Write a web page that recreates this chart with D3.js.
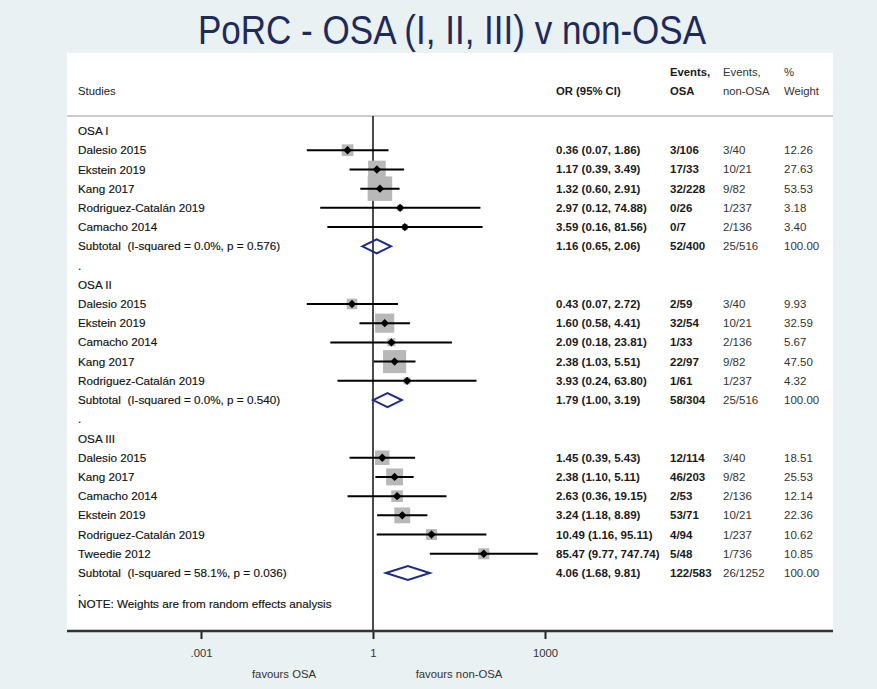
<!DOCTYPE html>
<html>
<head>
<meta charset="utf-8">
<script src="https://cdn.jsdelivr.net/npm/d3@7"></script>
<style>
  html, body { margin: 0; padding: 0; background: #e9f1f3; }
  svg { display: block; }
  text { font-family: "Liberation Sans", Arial, Helvetica, sans-serif; white-space: pre; }
</style>
</head>
<body>
<svg id="chart" width="877" height="689"></svg>
<script>
// ---- Data ----------------------------------------------------------------
const chartTitle = "PoRC - OSA (I, II, III) v non-OSA";
const groupNames = ["OSA I", "OSA II", "OSA III"];

const osa1Studies = ["Dalesio 2015", "Ekstein 2019", "Kang 2017", "Rodriguez-Catalán 2019", "Camacho 2014"];
const osa1OR      = [0.36, 1.17, 1.32, 2.97, 3.59];
const osa1Lo      = [0.07, 0.39, 0.60, 0.12, 0.16];
const osa1Hi      = [1.86, 3.49, 2.91, 74.88, 81.56];
const osa1EvOSA   = ["3/106", "17/33", "32/228", "0/26", "0/7"];
const osa1EvNon   = ["3/40", "10/21", "9/82", "1/237", "2/136"];
const osa1Weight  = [12.26, 27.63, 53.53, 3.18, 3.40];

const osa2Studies = ["Dalesio 2015", "Ekstein 2019", "Camacho 2014", "Kang 2017", "Rodriguez-Catalán 2019"];
const osa2OR      = [0.43, 1.60, 2.09, 2.38, 3.93];
const osa2Lo      = [0.07, 0.58, 0.18, 1.03, 0.24];
const osa2Hi      = [2.72, 4.41, 23.81, 5.51, 63.80];
const osa2EvOSA   = ["2/59", "32/54", "1/33", "22/97", "1/61"];
const osa2EvNon   = ["3/40", "10/21", "2/136", "9/82", "1/237"];
const osa2Weight  = [9.93, 32.59, 5.67, 47.50, 4.32];

const osa3Studies = ["Dalesio 2015", "Kang 2017", "Camacho 2014", "Ekstein 2019", "Rodriguez-Catalán 2019", "Tweedie 2012"];
const osa3OR      = [1.45, 2.38, 2.63, 3.24, 10.49, 85.47];
const osa3Lo      = [0.39, 1.10, 0.36, 1.18, 1.16, 9.77];
const osa3Hi      = [5.43, 5.11, 19.15, 8.89, 95.11, 747.74];
const osa3EvOSA   = ["12/114", "46/203", "2/53", "53/71", "4/94", "5/48"];
const osa3EvNon   = ["3/40", "9/82", "2/136", "10/21", "1/237", "1/736"];
const osa3Weight  = [18.51, 25.53, 12.14, 22.36, 10.62, 10.85];

// pooled (subtotal) estimates per group
const subOR     = [1.16, 1.79, 4.06];
const subLo     = [0.65, 1.00, 1.68];
const subHi     = [2.06, 3.19, 9.81];
const subEvOSA  = ["52/400", "58/304", "122/583"];
const subEvNon  = ["25/516", "25/516", "26/1252"];
const subWeight = [100.00, 100.00, 100.00];
const subI2     = [0.0, 0.0, 58.1];
const subP      = [0.576, 0.540, 0.036];

const axisTicks      = [0.001, 1, 1000];
const axisTickLabels = [".001", "1", "1000"];
const favourLabels   = ["favours OSA", "favours non-OSA"];
const noteText = "NOTE: Weights are from random effects analysis";

// ---- Assemble rows -------------------------------------------------------
const groups = [
  { studies: osa1Studies, or: osa1OR, lo: osa1Lo, hi: osa1Hi, evO: osa1EvOSA, evN: osa1EvNon, w: osa1Weight },
  { studies: osa2Studies, or: osa2OR, lo: osa2Lo, hi: osa2Hi, evO: osa2EvOSA, evN: osa2EvNon, w: osa2Weight },
  { studies: osa3Studies, or: osa3OR, lo: osa3Lo, hi: osa3Hi, evO: osa3EvOSA, evN: osa3EvNon, w: osa3Weight }
];

const rows = [];
let r = 0;
groups.forEach((g, gi) => {
  rows.push({ type: "header", row: r++, label: groupNames[gi] });
  g.studies.forEach((s, i) => {
    rows.push({ type: "study", row: r++, label: s, or: g.or[i], lo: g.lo[i], hi: g.hi[i],
                evO: g.evO[i], evN: g.evN[i], w: g.w[i] });
  });
  rows.push({ type: "subtotal", row: r++,
              label: `Subtotal  (I-squared = ${d3.format(".1f")(subI2[gi])}%, p = ${d3.format(".3f")(subP[gi])})`,
              or: subOR[gi], lo: subLo[gi], hi: subHi[gi], evO: subEvOSA[gi], evN: subEvNon[gi], w: subWeight[gi] });
  rows.push({ type: "spacer", row: r++, label: "." });
});
const lastRow = r - 1;

// ---- Layout --------------------------------------------------------------
const svg = d3.select("#chart");
const W = 877, H = 689;
const panel = { x0: 67, x1: 833, y0: 53, y1: 631 };
const sepY = 116;

const x = d3.scaleLog().domain([1e-3, 1e3]).range([201, 545]);
const y = d3.scaleLinear().domain([0, 23]).range([131, 573]);

const colLabel = 78, colOR = 556, colEvO = 670, colEvN = 723, colW = 784;
const fmt2 = d3.format(".2f");

svg.append("rect").attr("x", 0).attr("y", 0).attr("width", W).attr("height", H).attr("fill", "#e9f1f3");
svg.append("rect").attr("x", panel.x0).attr("y", panel.y0)
  .attr("width", panel.x1 - panel.x0).attr("height", panel.y1 - panel.y0).attr("fill", "#ffffff");

// title, set in a horizontally condensed face
svg.append("text").attr("transform", "translate(452,44) scale(0.855,1)").attr("text-anchor", "middle")
  .attr("font-size", 41).attr("fill", "#1e2a5a").text(chartTitle);

// column headings
const head = svg.append("g").attr("font-size", 11.3).attr("fill", "#1a1a1a");
head.append("text").attr("x", colLabel).attr("y", 91).attr("dy", "0.35em").text("Studies");
head.append("text").attr("x", colOR).attr("y", 91).attr("dy", "0.35em").attr("font-weight", "bold").text("OR (95% CI)");
head.append("text").attr("x", colEvO).attr("y", 72).attr("dy", "0.35em").attr("font-weight", "bold").text("Events,");
head.append("text").attr("x", colEvO).attr("y", 91).attr("dy", "0.35em").attr("font-weight", "bold").text("OSA");
head.append("text").attr("x", colEvN).attr("y", 72).attr("dy", "0.35em").attr("fill", "#333").text("Events,");
head.append("text").attr("x", colEvN).attr("y", 91).attr("dy", "0.35em").attr("fill", "#333").text("non-OSA");
head.append("text").attr("x", colW).attr("y", 72).attr("dy", "0.35em").attr("fill", "#333").text("%");
head.append("text").attr("x", colW).attr("y", 91).attr("dy", "0.35em").attr("fill", "#333").text("Weight");

svg.append("line").attr("x1", panel.x0).attr("x2", panel.x1).attr("y1", sepY).attr("y2", sepY)
  .attr("stroke", "#cccccc").attr("stroke-width", 2);

// reference line at OR = 1
svg.append("line").attr("x1", x(1)).attr("x2", x(1)).attr("y1", sepY).attr("y2", panel.y1)
  .attr("stroke", "#111").attr("stroke-width", 1.5);

// row labels
const labels = svg.append("g").attr("font-size", 11.7).attr("fill", "#111")
  .attr("stroke", "#111").attr("stroke-width", 0.15);
labels.selectAll("text").data(rows).join("text")
  .attr("x", colLabel).attr("y", d => y(d.row)).attr("dy", "0.35em").text(d => d.label);
labels.append("text").attr("x", colLabel).attr("y", y(lastRow + 0.6)).attr("dy", "0.35em").text(noteText);

// numeric columns
const valueRows = rows.filter(d => d.type === "study" || d.type === "subtotal");
const cols = svg.append("g").attr("font-size", 11.5);
cols.selectAll("text.or").data(valueRows).join("text").attr("class", "or")
  .attr("x", colOR).attr("y", d => y(d.row)).attr("dy", "0.35em").attr("font-weight", "bold").attr("fill", "#1a1a1a")
  .text(d => `${fmt2(d.or)} (${fmt2(d.lo)}, ${fmt2(d.hi)})`);
cols.selectAll("text.evo").data(valueRows).join("text").attr("class", "evo")
  .attr("x", colEvO).attr("y", d => y(d.row)).attr("dy", "0.35em").attr("font-weight", "bold").attr("fill", "#1a1a1a")
  .text(d => d.evO);
cols.selectAll("text.evn").data(valueRows).join("text").attr("class", "evn")
  .attr("x", colEvN).attr("y", d => y(d.row)).attr("dy", "0.35em").attr("fill", "#333")
  .text(d => d.evN);
cols.selectAll("text.w").data(valueRows).join("text").attr("class", "w")
  .attr("x", colW).attr("y", d => y(d.row)).attr("dy", "0.35em").attr("fill", "#333")
  .text(d => fmt2(d.w));

// study marks: weight boxes, CI whiskers, point estimates
const studies = rows.filter(d => d.type === "study");
const boxSide = w => 3.35 * Math.sqrt(w);
svg.append("g").selectAll("rect").data(studies).join("rect")
  .attr("x", d => x(d.or) - boxSide(d.w) / 2).attr("y", d => y(d.row) - boxSide(d.w) / 2)
  .attr("width", d => boxSide(d.w)).attr("height", d => boxSide(d.w))
  .attr("fill", "#b8b8b8");
svg.append("g").selectAll("line").data(studies).join("line")
  .attr("x1", d => x(d.lo)).attr("x2", d => x(d.hi))
  .attr("y1", d => y(d.row)).attr("y2", d => y(d.row))
  .attr("stroke", "#000").attr("stroke-width", 2);
svg.append("g").selectAll("path").data(studies).join("path")
  .attr("d", d => { const cx = x(d.or), cy = y(d.row), s = 4.2;
    return `M${cx - s},${cy}L${cx},${cy - s}L${cx + s},${cy}L${cx},${cy + s}Z`; })
  .attr("fill", "#000");

// pooled diamonds
const subs = rows.filter(d => d.type === "subtotal");
svg.append("g").selectAll("path").data(subs).join("path")
  .attr("d", d => { const cy = y(d.row), h = 7;
    return `M${x(d.lo)},${cy}L${x(d.or)},${cy - h}L${x(d.hi)},${cy}L${x(d.or)},${cy + h}Z`; })
  .attr("fill", "none").attr("stroke", "#1f2a86").attr("stroke-width", 2);

// x axis
const axis = svg.append("g").attr("transform", `translate(0,${panel.y1})`)
  .call(d3.axisBottom(x).tickValues(axisTicks).tickSize(8).tickPadding(10)
        .tickFormat((d, i) => axisTickLabels[i]));
axis.select(".domain").remove();
axis.selectAll(".tick line").attr("stroke", "#222").attr("stroke-width", 2);
axis.selectAll(".tick text").attr("font-size", 11.3).attr("fill", "#333")
  .attr("font-family", "Liberation Sans, Arial, sans-serif");
svg.append("line").attr("x1", panel.x0).attr("x2", panel.x1).attr("y1", panel.y1).attr("y2", panel.y1)
  .attr("stroke", "#333").attr("stroke-width", 2.5);

svg.append("text").attr("x", 284).attr("y", 674).attr("dy", "0.35em").attr("text-anchor", "middle")
  .attr("font-size", 11.3).attr("fill", "#333").text(favourLabels[0]);
svg.append("text").attr("x", 459).attr("y", 674).attr("dy", "0.35em").attr("text-anchor", "middle")
  .attr("font-size", 11.3).attr("fill", "#333").text(favourLabels[1]);
</script>
</body>
</html>
